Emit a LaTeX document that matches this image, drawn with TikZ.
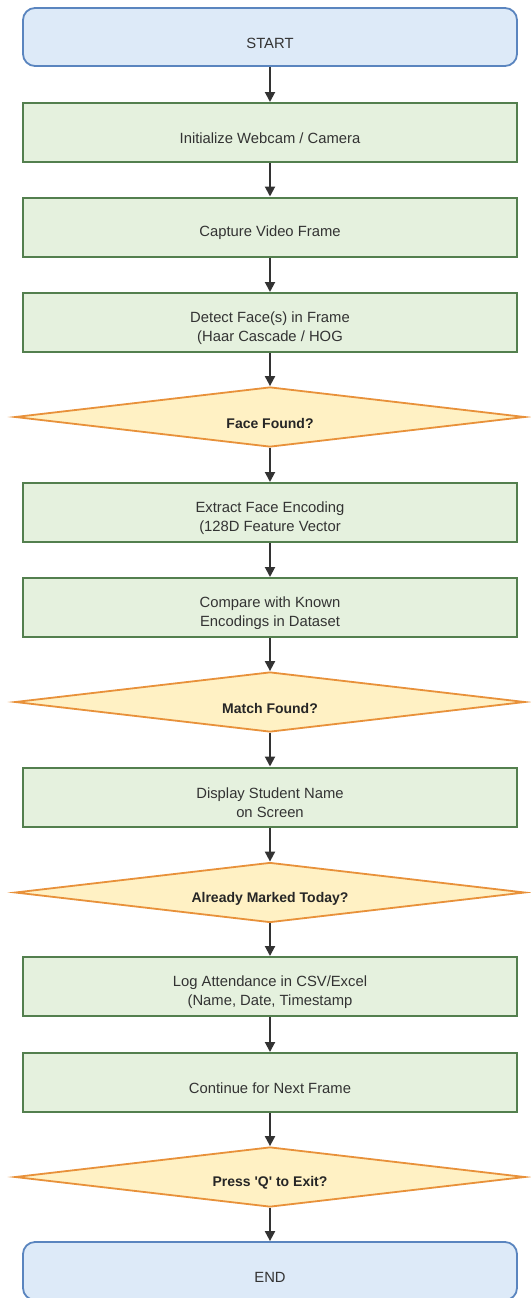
\documentclass[tikz,border=0pt]{standalone}
\usepackage{fontspec}
\setmainfont{Liberation Sans}
\usetikzlibrary{shapes.geometric,arrows.meta}
\definecolor{termfill}{HTML}{DDEAF8}
\definecolor{termline}{HTML}{5A85BF}
\definecolor{procfill}{HTML}{E5F1DE}
\definecolor{procline}{HTML}{537F4E}
\definecolor{decfill}{HTML}{FFF1C4}
\definecolor{decline}{HTML}{E8913A}
\definecolor{textgray}{HTML}{333333}
\definecolor{arrowgray}{HTML}{333333}
\begin{document}
\begin{tikzpicture}[x=1pt,y=-1pt,
  term/.style={rectangle, rounded corners=12pt, draw=termline, fill=termfill, line width=1.8pt, minimum width=494pt, minimum height=58pt, inner sep=0pt},
  procbox/.style={rectangle, draw=procline, fill=procfill, line width=2pt, minimum width=494pt, minimum height=59pt, inner sep=0pt},
  decision/.style={diamond, draw=decline, fill=decfill, line width=1.8pt, minimum width=510pt, minimum height=60pt, inner sep=0pt, aspect=8},
  txt/.style={font=\fontsize{14.8}{19}\selectfont, text=textgray, align=center, inner sep=0pt},
  dtxt/.style={font=\fontsize{14}{16}\selectfont\bfseries, text=black!85, inner sep=0pt},
  flow/.style={draw=arrowgray, line width=2pt, -{Triangle[length=10pt,width=10pt]}}]
\fill[white] (0,0) rectangle (530,1298);
\useasboundingbox (0,0) rectangle (530,1298);

\node[term]     (start) at (270,37)    {};
\node[procbox]  (init)  at (270,132.5) {};
\node[procbox]  (cap)   at (270,227)   {};
\node[procbox]  (det)   at (270,322.5) {};
\node[decision] (face)  at (270,417)   {};
\node[procbox]  (ext)   at (270,512.5) {};
\node[procbox]  (cmp)   at (270,607.5) {};
\node[decision] (match) at (270,702)   {};
\node[procbox]  (disp)  at (270,797)   {};
\node[decision] (mark)  at (270,892.5) {};
\node[procbox]  (log)   at (270,986.5) {};
\node[procbox]  (cont)  at (270,1082.5){};
\node[decision] (quit)  at (270,1177)  {};
\node[term]     (end)   at (270,1271)  {};

\node[txt]  (tstart) at ([yshift=-6pt]start.center) {START};
\node[txt]  (tinit)  at ([yshift=-6pt]init.center)  {Initialize Webcam / Camera};
\node[txt]  (tcap)   at ([yshift=-6pt]cap.center)   {Capture Video Frame};
\node[txt]  (tdet)   at ([yshift=-6pt]det.center)   {Detect Face(s) in Frame\\(Haar Cascade / HOG};
\node[dtxt] (tface)  at ([yshift=-6pt]face.center)  {Face Found?};
\node[txt]  (text)   at ([yshift=-6pt]ext.center)   {Extract Face Encoding\\(128D Feature Vector};
\node[txt]  (tcmp)   at ([yshift=-6pt]cmp.center)   {Compare with Known\\Encodings in Dataset};
\node[dtxt] (tmatch) at ([yshift=-6pt]match.center) {Match Found?};
\node[txt]  (tdisp)  at ([yshift=-6pt]disp.center)  {Display Student Name\\on Screen};
\node[dtxt] (tmark)  at ([yshift=-6pt]mark.center)  {Already Marked Today?};
\node[txt]  (tlog)   at ([yshift=-6pt]log.center)   {Log Attendance in CSV/Excel\\(Name, Date, Timestamp};
\node[txt]  (tcont)  at ([yshift=-6pt]cont.center)  {Continue for Next Frame};
\node[dtxt] (tquit)  at ([yshift=-6pt]quit.center)  {Press \textquotesingle Q\textquotesingle{} to Exit?};
\node[txt]  (tend)   at ([yshift=-6pt]end.center)   {END};

\draw[flow] (start.south) -- (init.north);
\draw[flow] (init.south) -- (cap.north);
\draw[flow] (cap.south) -- (det.north);
\draw[flow] (det.south) -- (face.north);
\draw[flow] (face.south) -- (ext.north);
\draw[flow] (ext.south) -- (cmp.north);
\draw[flow] (cmp.south) -- (match.north);
\draw[flow] (match.south) -- (disp.north);
\draw[flow] (disp.south) -- (mark.north);
\draw[flow] (mark.south) -- (log.north);
\draw[flow] (log.south) -- (cont.north);
\draw[flow] (cont.south) -- (quit.north);
\draw[flow] (quit.south) -- (end.north);
\end{tikzpicture}
\end{document}
